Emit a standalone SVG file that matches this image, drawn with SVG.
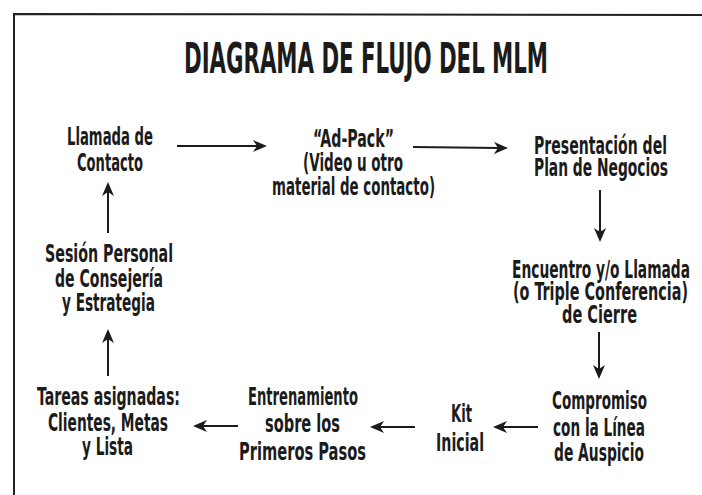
<svg xmlns="http://www.w3.org/2000/svg" width="702" height="495" viewBox="0 0 702 495">
<style>
  .t { font-family: "DejaVu Sans", "Liberation Sans", sans-serif; font-stretch: condensed; font-weight: bold; font-size: 25px; fill: #1b1b1b; }
  .title { font-family: "DejaVu Sans", "Liberation Sans", sans-serif; font-stretch: condensed; font-weight: bold; font-size: 42px; fill: #1b1b1b; }
  .frame { stroke: #222; stroke-width: 2; fill: none; }
  .c { stroke: #1b1b1b; stroke-width: 2; fill: none; marker-end: url(#ah); }
</style>
<defs>
  <marker id="ah" viewBox="0 0 14 12" refX="6" refY="6" markerWidth="14" markerHeight="12" markerUnits="userSpaceOnUse" orient="auto">
    <path d="M0,0 L14,6 L0,12 L4,6 z" fill="#1b1b1b"/>
  </marker>
</defs>
<rect width="702" height="495" fill="#ffffff"/>
<path class="frame" d="M14,495 L14,14 L702,15"/>
<text class="title" x="184" y="73" textLength="364" lengthAdjust="spacingAndGlyphs">DIAGRAMA DE FLUJO DEL MLM</text>

<g id="connectors">
  <path class="c" d="M177,146 L259,146"/>
  <path class="c" d="M413,147 L500,148"/>
  <path class="c" d="M600,190 L600,234"/>
  <path class="c" d="M599,332 L599,371"/>
  <path class="c" d="M538,427 L501,427"/>
  <path class="c" d="M415,427 L378,427"/>
  <path class="c" d="M238,426 L201,426"/>
  <path class="c" d="M108,376 L108,337"/>
  <path class="c" d="M108,233 L108,190"/>
</g>

<g id="llamada">
  <text class="t" x="67" y="145" textLength="86" lengthAdjust="spacingAndGlyphs">Llamada de</text>
  <text class="t" x="77" y="171" textLength="66" lengthAdjust="spacingAndGlyphs">Contacto</text>
</g>
<g id="adpack">
  <text class="t" x="313" y="147" textLength="81" lengthAdjust="spacingAndGlyphs">“Ad-Pack”</text>
  <text class="t" x="303" y="171" textLength="100" lengthAdjust="spacingAndGlyphs">(Video u otro</text>
  <text class="t" x="272" y="195" textLength="163" lengthAdjust="spacingAndGlyphs">material de contacto)</text>
</g>
<g id="presentacion">
  <text class="t" x="534" y="154" textLength="133" lengthAdjust="spacingAndGlyphs">Presentación del</text>
  <text class="t" x="534" y="176" textLength="134" lengthAdjust="spacingAndGlyphs">Plan de Negocios</text>
</g>
<g id="encuentro">
  <text class="t" x="512" y="278" textLength="178" lengthAdjust="spacingAndGlyphs">Encuentro y/o Llamada</text>
  <text class="t" x="513" y="300" textLength="175" lengthAdjust="spacingAndGlyphs">(o Triple Conferencia)</text>
  <text class="t" x="562" y="323" textLength="75" lengthAdjust="spacingAndGlyphs">de Cierre</text>
</g>
<g id="compromiso">
  <text class="t" x="552" y="409" textLength="95" lengthAdjust="spacingAndGlyphs">Compromiso</text>
  <text class="t" x="553" y="436" textLength="92" lengthAdjust="spacingAndGlyphs">con la Línea</text>
  <text class="t" x="554" y="461" textLength="90" lengthAdjust="spacingAndGlyphs">de Auspicio</text>
</g>
<g id="kit">
  <text class="t" x="451" y="422" textLength="21" lengthAdjust="spacingAndGlyphs">Kit</text>
  <text class="t" x="436" y="451" textLength="48" lengthAdjust="spacingAndGlyphs">Inicial</text>
</g>
<g id="entrenamiento">
  <text class="t" x="248" y="405" textLength="110" lengthAdjust="spacingAndGlyphs">Entrenamiento</text>
  <text class="t" x="265" y="432" textLength="75" lengthAdjust="spacingAndGlyphs">sobre los</text>
  <text class="t" x="239" y="460" textLength="127" lengthAdjust="spacingAndGlyphs">Primeros Pasos</text>
</g>
<g id="tareas">
  <text class="t" x="37" y="405" textLength="143" lengthAdjust="spacingAndGlyphs">Tareas asignadas:</text>
  <text class="t" x="48" y="431" textLength="120" lengthAdjust="spacingAndGlyphs">Clientes, Metas</text>
  <text class="t" x="82" y="455" textLength="51" lengthAdjust="spacingAndGlyphs">y Lista</text>
</g>
<g id="sesion">
  <text class="t" x="45" y="262" textLength="128" lengthAdjust="spacingAndGlyphs">Sesión Personal</text>
  <text class="t" x="55" y="287" textLength="108" lengthAdjust="spacingAndGlyphs">de Consejería</text>
  <text class="t" x="62" y="311" textLength="93" lengthAdjust="spacingAndGlyphs">y Estrategia</text>
</g>
</svg>
